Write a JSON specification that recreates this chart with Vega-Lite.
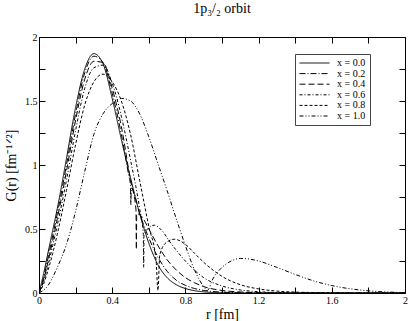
{
  "$schema": "https://vega.github.io/schema/vega-lite/v6.json",
  "width": 366,
  "height": 256,
  "autosize": {"type": "none"},
  "padding": {"left": 39, "top": 37, "right": 4, "bottom": 28},
  "background": "white",
  "config": {
    "view": {"stroke": "black", "strokeWidth": 1},
    "font": "Liberation Serif",
    "axis": {"grid": false, "domainColor": "black", "tickColor": "black", "labelColor": "black", "titleColor": "black", "labelFont": "Liberation Serif", "titleFont": "Liberation Serif", "titleFontWeight": "normal"}
  },
  "title": {"text": "1p₃/₂ orbit", "font": "Liberation Serif", "fontSize": 14, "fontWeight": "normal", "anchor": "middle", "offset": 16, "color": "black"},
  "data": {"values": [
    {"s":"x = 0.0","r":0,"G":0},{"s":"x = 0.0","r":0.025,"G":0.15},{"s":"x = 0.0","r":0.05,"G":0.32},{"s":"x = 0.0","r":0.075,"G":0.49},{"s":"x = 0.0","r":0.1,"G":0.66},{"s":"x = 0.0","r":0.15,"G":1.05},{"s":"x = 0.0","r":0.2,"G":1.45},{"s":"x = 0.0","r":0.25,"G":1.75},{"s":"x = 0.0","r":0.3,"G":1.87},{"s":"x = 0.0","r":0.35,"G":1.79},{"s":"x = 0.0","r":0.4,"G":1.52},{"s":"x = 0.0","r":0.45,"G":1.2},{"s":"x = 0.0","r":0.5,"G":0.9},{"s":"x = 0.0","r":0.55,"G":0.62},{"s":"x = 0.0","r":0.6,"G":0.39},{"s":"x = 0.0","r":0.65,"G":0.22},{"s":"x = 0.0","r":0.7,"G":0.12},{"s":"x = 0.0","r":0.75,"G":0.065},{"s":"x = 0.0","r":0.8,"G":0.035},{"s":"x = 0.0","r":0.85,"G":0.018},{"s":"x = 0.0","r":0.9,"G":0.009},{"s":"x = 0.0","r":1.0,"G":0.002},{"s":"x = 0.0","r":1.2,"G":0},{"s":"x = 0.0","r":2.0,"G":0},

    {"s":"x = 0.2","r":0,"G":0},{"s":"x = 0.2","r":0.025,"G":0.12},{"s":"x = 0.2","r":0.05,"G":0.28},{"s":"x = 0.2","r":0.075,"G":0.45},{"s":"x = 0.2","r":0.1,"G":0.62},{"s":"x = 0.2","r":0.15,"G":1.0},{"s":"x = 0.2","r":0.2,"G":1.4},{"s":"x = 0.2","r":0.25,"G":1.72},{"s":"x = 0.2","r":0.3,"G":1.85},{"s":"x = 0.2","r":0.35,"G":1.8},{"s":"x = 0.2","r":0.4,"G":1.56},{"s":"x = 0.2","r":0.45,"G":1.24},{"s":"x = 0.2","r":0.49,"G":0.92},{"s":"x = 0.2","r":0.5,"G":0.84},{"s":"x = 0.2","r":0.502,"G":0.69},{"s":"x = 0.2","r":0.504,"G":0.82},{"s":"x = 0.2","r":0.55,"G":0.62},{"s":"x = 0.2","r":0.6,"G":0.43},{"s":"x = 0.2","r":0.65,"G":0.28},{"s":"x = 0.2","r":0.7,"G":0.17},{"s":"x = 0.2","r":0.75,"G":0.1},{"s":"x = 0.2","r":0.8,"G":0.06},{"s":"x = 0.2","r":0.85,"G":0.035},{"s":"x = 0.2","r":0.9,"G":0.02},{"s":"x = 0.2","r":1.0,"G":0.007},{"s":"x = 0.2","r":1.1,"G":0.002},{"s":"x = 0.2","r":1.3,"G":0},{"s":"x = 0.2","r":2.0,"G":0},

    {"s":"x = 0.4","r":0,"G":0},{"s":"x = 0.4","r":0.025,"G":0.1},{"s":"x = 0.4","r":0.05,"G":0.25},{"s":"x = 0.4","r":0.075,"G":0.41},{"s":"x = 0.4","r":0.1,"G":0.58},{"s":"x = 0.4","r":0.15,"G":0.95},{"s":"x = 0.4","r":0.2,"G":1.35},{"s":"x = 0.4","r":0.25,"G":1.67},{"s":"x = 0.4","r":0.3,"G":1.81},{"s":"x = 0.4","r":0.35,"G":1.8},{"s":"x = 0.4","r":0.4,"G":1.6},{"s":"x = 0.4","r":0.45,"G":1.3},{"s":"x = 0.4","r":0.5,"G":0.88},{"s":"x = 0.4","r":0.53,"G":0.65},{"s":"x = 0.4","r":0.532,"G":0.34},{"s":"x = 0.4","r":0.534,"G":0.62},{"s":"x = 0.4","r":0.56,"G":0.6},{"s":"x = 0.4","r":0.6,"G":0.5},{"s":"x = 0.4","r":0.65,"G":0.37},{"s":"x = 0.4","r":0.7,"G":0.26},{"s":"x = 0.4","r":0.75,"G":0.18},{"s":"x = 0.4","r":0.8,"G":0.12},{"s":"x = 0.4","r":0.85,"G":0.08},{"s":"x = 0.4","r":0.9,"G":0.05},{"s":"x = 0.4","r":1.0,"G":0.02},{"s":"x = 0.4","r":1.1,"G":0.008},{"s":"x = 0.4","r":1.2,"G":0.003},{"s":"x = 0.4","r":1.4,"G":0},{"s":"x = 0.4","r":2.0,"G":0},

    {"s":"x = 0.6","r":0,"G":0},{"s":"x = 0.6","r":0.025,"G":0.09},{"s":"x = 0.6","r":0.05,"G":0.22},{"s":"x = 0.6","r":0.075,"G":0.37},{"s":"x = 0.6","r":0.1,"G":0.53},{"s":"x = 0.6","r":0.15,"G":0.88},{"s":"x = 0.6","r":0.2,"G":1.27},{"s":"x = 0.6","r":0.25,"G":1.6},{"s":"x = 0.6","r":0.3,"G":1.76},{"s":"x = 0.6","r":0.35,"G":1.78},{"s":"x = 0.6","r":0.4,"G":1.64},{"s":"x = 0.6","r":0.45,"G":1.38},{"s":"x = 0.6","r":0.5,"G":1.04},{"s":"x = 0.6","r":0.55,"G":0.66},{"s":"x = 0.6","r":0.57,"G":0.46},{"s":"x = 0.6","r":0.572,"G":0.2},{"s":"x = 0.6","r":0.574,"G":0.45},{"s":"x = 0.6","r":0.6,"G":0.51},{"s":"x = 0.6","r":0.63,"G":0.53},{"s":"x = 0.6","r":0.67,"G":0.49},{"s":"x = 0.6","r":0.72,"G":0.39},{"s":"x = 0.6","r":0.8,"G":0.25},{"s":"x = 0.6","r":0.9,"G":0.12},{"s":"x = 0.6","r":1.0,"G":0.055},{"s":"x = 0.6","r":1.1,"G":0.024},{"s":"x = 0.6","r":1.2,"G":0.01},{"s":"x = 0.6","r":1.3,"G":0.004},{"s":"x = 0.6","r":1.5,"G":0},{"s":"x = 0.6","r":2.0,"G":0},

    {"s":"x = 0.8","r":0,"G":0},{"s":"x = 0.8","r":0.025,"G":0.07},{"s":"x = 0.8","r":0.05,"G":0.18},{"s":"x = 0.8","r":0.075,"G":0.31},{"s":"x = 0.8","r":0.1,"G":0.46},{"s":"x = 0.8","r":0.15,"G":0.8},{"s":"x = 0.8","r":0.2,"G":1.16},{"s":"x = 0.8","r":0.25,"G":1.47},{"s":"x = 0.8","r":0.3,"G":1.65},{"s":"x = 0.8","r":0.35,"G":1.71},{"s":"x = 0.8","r":0.4,"G":1.65},{"s":"x = 0.8","r":0.45,"G":1.5},{"s":"x = 0.8","r":0.5,"G":1.24},{"s":"x = 0.8","r":0.55,"G":0.88},{"s":"x = 0.8","r":0.6,"G":0.52},{"s":"x = 0.8","r":0.64,"G":0.25},{"s":"x = 0.8","r":0.65,"G":0.02},{"s":"x = 0.8","r":0.66,"G":0.3},{"s":"x = 0.8","r":0.7,"G":0.4},{"s":"x = 0.8","r":0.74,"G":0.42},{"s":"x = 0.8","r":0.8,"G":0.38},{"s":"x = 0.8","r":0.85,"G":0.31},{"s":"x = 0.8","r":0.9,"G":0.24},{"s":"x = 0.8","r":1.0,"G":0.13},{"s":"x = 0.8","r":1.1,"G":0.065},{"s":"x = 0.8","r":1.2,"G":0.032},{"s":"x = 0.8","r":1.3,"G":0.015},{"s":"x = 0.8","r":1.4,"G":0.007},{"s":"x = 0.8","r":1.6,"G":0.002},{"s":"x = 0.8","r":1.8,"G":0},{"s":"x = 0.8","r":2.0,"G":0},

    {"s":"x = 1.0","r":0,"G":0},{"s":"x = 1.0","r":0.05,"G":0.06},{"s":"x = 1.0","r":0.1,"G":0.2},{"s":"x = 1.0","r":0.15,"G":0.38},{"s":"x = 1.0","r":0.175,"G":0.5},{"s":"x = 1.0","r":0.2,"G":0.64},{"s":"x = 1.0","r":0.25,"G":0.95},{"s":"x = 1.0","r":0.3,"G":1.24},{"s":"x = 1.0","r":0.35,"G":1.4},{"s":"x = 1.0","r":0.4,"G":1.48},{"s":"x = 1.0","r":0.45,"G":1.52},{"s":"x = 1.0","r":0.5,"G":1.5},{"s":"x = 1.0","r":0.55,"G":1.4},{"s":"x = 1.0","r":0.6,"G":1.22},{"s":"x = 1.0","r":0.65,"G":1.01},{"s":"x = 1.0","r":0.7,"G":0.8},{"s":"x = 1.0","r":0.75,"G":0.58},{"s":"x = 1.0","r":0.8,"G":0.37},{"s":"x = 1.0","r":0.85,"G":0.18},{"s":"x = 1.0","r":0.9,"G":0.05},{"s":"x = 1.0","r":0.92,"G":0.02},{"s":"x = 1.0","r":0.95,"G":0.11},{"s":"x = 1.0","r":1.0,"G":0.2},{"s":"x = 1.0","r":1.05,"G":0.25},{"s":"x = 1.0","r":1.1,"G":0.27},{"s":"x = 1.0","r":1.15,"G":0.265},{"s":"x = 1.0","r":1.2,"G":0.25},{"s":"x = 1.0","r":1.3,"G":0.2},{"s":"x = 1.0","r":1.4,"G":0.145},{"s":"x = 1.0","r":1.5,"G":0.095},{"s":"x = 1.0","r":1.6,"G":0.058},{"s":"x = 1.0","r":1.7,"G":0.033},{"s":"x = 1.0","r":1.8,"G":0.017},{"s":"x = 1.0","r":1.9,"G":0.008},{"s":"x = 1.0","r":2.0,"G":0.003}
  ]},
  "layer": [
    {
      "mark": {"type": "line", "color": "black", "strokeWidth": 1, "clip": true, "interpolate": "monotone"},
      "encoding": {
        "x": {"field": "r", "type": "quantitative", "scale": {"domain": [0, 2], "nice": false, "zero": false},
          "axis": {"orient": "bottom", "title": "r [fm]", "titleFontSize": 14, "titlePadding": 2, "values": [0,0.2,0.4,0.6,0.8,1.0,1.2,1.4,1.6,1.8,2.0], "format": "~g", "labelExpr": "round(datum.value*10) % 4 == 0 ? datum.label : ''", "tickSize": -6, "labelPadding": 8, "labelFontSize": 10, "domain": false, "labelFlush": false}},
        "y": {"field": "G", "type": "quantitative", "scale": {"domain": [0, 2], "nice": false, "zero": false},
          "axis": {"orient": "left", "title": "G(r) [fm⁻¹ᐟ²]", "titleFontSize": 14, "titlePadding": 6, "values": [0,0.25,0.5,0.75,1.0,1.25,1.5,1.75,2.0], "format": "~g", "labelExpr": "round(datum.value*4) % 2 == 0 ? datum.label : ''", "tickSize": -6, "labelPadding": 8, "labelFontSize": 10, "domain": false, "labelFlush": false}},
        "strokeDash": {"field": "s", "type": "nominal",
          "scale": {"domain": ["x = 0.0","x = 0.2","x = 0.4","x = 0.6","x = 0.8","x = 1.0"], "range": [[1,0],[6,2,1,2],[6,3],[3,2,1,2],[3,2],[4,2,1,2,1,2]]},
          "legend": {"title": null, "orient": "none", "legendX": 256, "legendY": 17, "labelFont": "Liberation Serif", "labelFontSize": 10, "labelColor": "black", "symbolType": "stroke", "symbolSize": 900, "symbolStrokeColor": "black", "symbolStrokeWidth": 1, "strokeColor": "#444", "fillColor": "white", "padding": 4, "rowPadding": 0.6, "clipHeight": 10, "labelOffset": 7}}
      }
    },
    {
      "mark": {"type": "point", "opacity": 0},
      "encoding": {
        "x": {"field": "r", "type": "quantitative", "axis": {"orient": "top", "title": null, "labels": false, "values": [0,0.2,0.4,0.6,0.8,1.0,1.2,1.4,1.6,1.8,2.0], "tickSize": -6, "domain": false}},
        "y": {"field": "G", "type": "quantitative", "axis": {"orient": "right", "title": null, "labels": false, "values": [0,0.25,0.5,0.75,1.0,1.25,1.5,1.75,2.0], "tickSize": -6, "domain": false}}
      }
    }
  ],
  "resolve": {"axis": {"x": "independent", "y": "independent"}}
}
